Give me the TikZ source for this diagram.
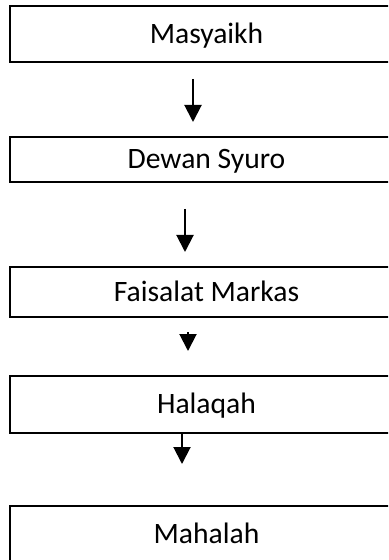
\documentclass[tikz,border=0pt]{standalone}
\usepackage{fontspec}
\setmainfont{Carlito}
\usetikzlibrary{arrows.meta}

\begin{document}
\begin{tikzpicture}[
  x=0.5pt, y=-0.5pt,
  every node/.style={draw, line width=1pt, minimum width=197pt, inner sep=0pt,
    text height=9.4pt, text depth=0pt, font=\fontsize{14.8}{17}\selectfont},
  arr/.style={line width=1pt, -{Triangle[width=8.5pt,length=8.5pt]}}]
\useasboundingbox (0,0) rectangle (388,560);
\clip (0,0) rectangle (388,560);
\fill[white] (0,0) rectangle (388,560);
\node[minimum height=28pt] (masyaikh) at (206.5,34) {Masyaikh};
\node[minimum height=22.5pt] (syuro) at (206.5,159.5) {Dewan Syuro};
\node[minimum height=25pt] (markas) at (206.5,292) {Faisalat Markas};
\node[minimum height=28.5pt] (halaqah) at (206.5,404.5) {Halaqah};
\node[minimum height=28pt] (mahalah) at (206.5,534) {Mahalah};
\draw[arr, shorten <=8pt, shorten >=7pt] ([xshift=-6.75pt]masyaikh.south) -- ([xshift=-6.75pt]syuro.north);
\draw[arr, shorten <=13pt, shorten >=7pt] ([xshift=-10.75pt]syuro.south) -- ([xshift=-10.75pt]markas.north);
\draw[arr, shorten <=7pt, shorten >=12pt] ([xshift=-9.25pt]markas.south) -- ([xshift=-9.25pt]halaqah.north);
\draw[arr, shorten >=20.5pt] ([xshift=-12.25pt]halaqah.south) -- ([xshift=-12.25pt]mahalah.north);
\end{tikzpicture}
\end{document}
